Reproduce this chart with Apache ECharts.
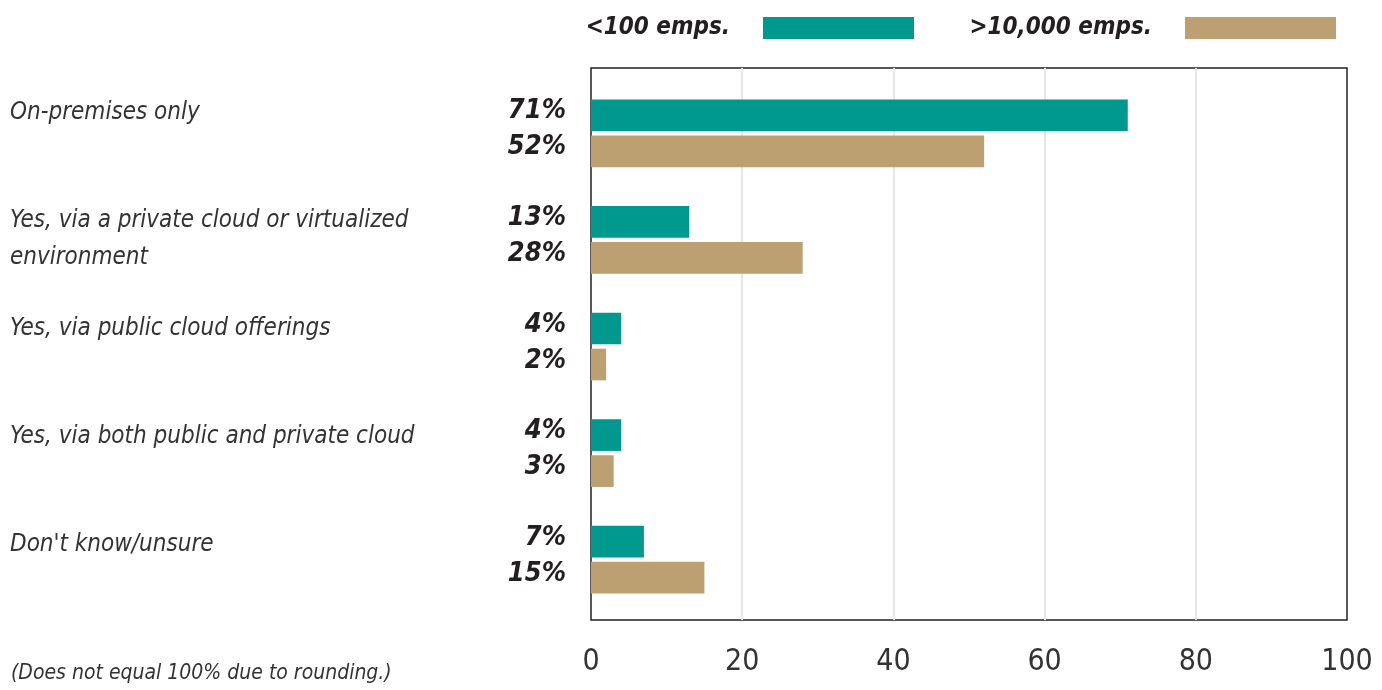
<!DOCTYPE html>
<html>
<head>
<meta charset="utf-8">
<title>Deployment by company size</title>
<script src="https://cdn.jsdelivr.net/npm/echarts@6/dist/echarts.min.js"></script>
<style>
  html, body { margin: 0; padding: 0; background: #fff; }
  #chart { width: 1382px; height: 690px; }
</style>
</head>
<body>
<div id="chart"></div>
<script>
// Survey answers and the share of each company-size group (%)
const categories = [
  'On-premises only',
  'Yes, via a private cloud or virtualized\nenvironment',
  'Yes, via public cloud offerings',
  'Yes, via both public and private cloud',
  "Don't know/unsure"
];
const smallCompanies = [71, 13, 4, 4, 7];   // <100 emps.
const largeCompanies = [52, 28, 2, 3, 15];  // >10,000 emps.
const seriesNames = ['<100 emps.', '>10,000 emps.'];
const footnote = '(Does not equal 100% due to rounding.)';

const FONT = '"Liberation Sans Narrow", "DejaVu Sans Condensed", "Roboto Condensed", sans-serif';
const TEAL = '#009990';
const TAN = '#BCA072';
const INK = '#231f20';

const valueLabel = {
  show: true,
  position: 'left',
  distance: 25,
  offset: [0, -4],
  formatter: '{c}%',
  fontFamily: FONT,
  fontSize: 27,
  fontWeight: 'bold',
  fontStyle: 'italic',
  color: INK
};

const legendText = {
  fontFamily: FONT,
  fontSize: 24,
  fontWeight: 'bold',
  fontStyle: 'italic',
  color: INK,
  padding: [0, 28, 0, 0]
};

const chart = echarts.init(document.getElementById('chart'), null, { renderer: 'canvas' });

chart.setOption({
  animation: false,
  backgroundColor: '#fff',
  title: {
    text: footnote,
    left: 6,
    top: 658,
    textStyle: {
      fontFamily: FONT,
      fontSize: 21,
      fontWeight: 'normal',
      fontStyle: 'italic',
      color: '#333'
    }
  },
  legend: [
    {
      data: [seriesNames[0]],
      right: 463,
      top: 11,
      align: 'right',
      icon: 'rect',
      itemWidth: 151,
      itemHeight: 22,
      textStyle: legendText,
      selectedMode: false
    },
    {
      data: [seriesNames[1]],
      right: 41,
      top: 11,
      align: 'right',
      icon: 'rect',
      itemWidth: 151,
      itemHeight: 22,
      textStyle: legendText,
      selectedMode: false
    }
  ],
  grid: [
    // framed plot area with the value scale
    { left: 591, right: 35, top: 68, bottom: 70, show: true, borderColor: '#222', borderWidth: 1.5, backgroundColor: 'transparent' },
    // bars
    { left: 591, right: 35, top: 80, bottom: 77 },
    // answer text column
    { left: 591, right: 35, top: 40, bottom: 109.5 }
  ],
  xAxis: [
    {
      gridIndex: 0,
      type: 'value',
      min: 0,
      max: 100,
      interval: 20,
      axisLine: { show: false },
      axisTick: { show: false },
      splitLine: {
        show: true,
        showMinLine: false,
        showMaxLine: false,
        lineStyle: { color: '#e6e6e6', width: 2 }
      },
      axisLabel: {
        margin: 27,
        fontFamily: FONT,
        fontSize: 30,
        color: '#333'
      }
    },
    { gridIndex: 1, type: 'value', min: 0, max: 100, show: false },
    { gridIndex: 2, type: 'value', min: 0, max: 100, show: false }
  ],
  yAxis: [
    { gridIndex: 0, type: 'value', show: false },
    {
      gridIndex: 1,
      type: 'category',
      data: categories,
      inverse: true,
      axisLine: { show: false },
      axisTick: { show: false },
      axisLabel: { show: false }
    },
    {
      gridIndex: 2,
      type: 'category',
      data: categories,
      inverse: true,
      axisLine: { show: false },
      axisTick: { show: false },
      axisLabel: {
        align: 'left',
        verticalAlign: 'top',
        margin: 581,
        lineHeight: 37,
        fontFamily: FONT,
        fontSize: 24,
        fontStyle: 'italic',
        color: '#333'
      }
    }
  ],
  series: [
    {
      name: seriesNames[0],
      type: 'bar',
      xAxisIndex: 1,
      yAxisIndex: 1,
      data: smallCompanies,
      barWidth: 31.7,
      barGap: '13.6%',
      itemStyle: { color: TEAL },
      label: valueLabel
    },
    {
      name: seriesNames[1],
      type: 'bar',
      xAxisIndex: 1,
      yAxisIndex: 1,
      data: largeCompanies,
      barWidth: 31.7,
      barGap: '13.6%',
      itemStyle: { color: TAN },
      label: valueLabel
    }
  ]
});
</script>
</body>
</html>
